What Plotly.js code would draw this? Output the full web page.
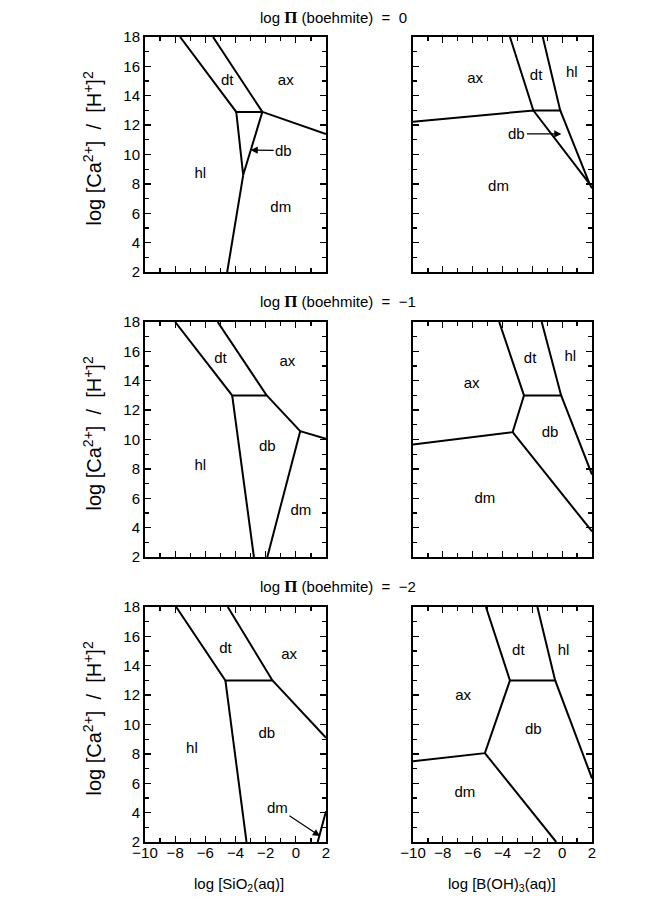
<!DOCTYPE html>
<html><head><meta charset="utf-8">
<script src="https://cdn.plot.ly/plotly-3.0.1.min.js"></script>
<style>html,body{margin:0;padding:0;background:#fff}#chart{width:667px;height:902px}</style>
</head><body><div id="chart"></div>
<script>
// ---- axis ranges / ticks ----
const xRange = [-10, 2];
const yRange = [2, 18];
const rowTitles = ["0", "\u22121", "\u22122"];
const xTitleLeft = "log [SiO<sub>2</sub>(aq)]";
const xTitleRight = "log [B(OH)<sub>3</sub>(aq)]";
const yTitle = "log [Ca<sup>2+</sup>]  /  [H<sup>+</sup>]<sup>2</sup>";

// ---- phase boundaries (null separates segments) ----
// Panel 1: SiO2, log Pi = 0
const p1X = [-7.67, -3.95, -2.22, -5.49, null, -2.22, 2, null, -3.95, -3.49, -2.22, null, -3.49, -4.55];
const p1Y = [18, 12.9, 12.9, 18, null, 12.9, 11.4, null, 12.9, 8.6, 12.9, null, 8.6, 2];
// Panel 2: B(OH)3, log Pi = 0
const p2X = [-3.5, -1.93, -0.13, -1.30, null, -10, -1.93, 1.84, -0.13, null, 1.84, 2];
const p2Y = [18, 13.0, 13.0, 18, null, 12.23, 13.0, 8.0, 13.0, null, 8.0, 7.7];
// Panel 3: SiO2, log Pi = -1
const p3X = [-8.0, -4.22, -1.93, -5.18, null, -1.93, 0.29, 2, null, -4.22, -2.78, null, 0.29, -1.89];
const p3Y = [18, 13.0, 13.0, 18, null, 13.0, 10.57, 10.05, null, 13.0, 2, null, 10.57, 2];
// Panel 4: B(OH)3, log Pi = -1
const p4X = [-4.22, -2.56, -0.07, -1.37, null, -10, -3.32, -2.56, null, -3.32, 2, null, -0.07, 2];
const p4Y = [18, 13.0, 13.0, 18, null, 9.66, 10.5, 13.0, null, 10.5, 3.74, null, 13.0, 7.61];
// Panel 5: SiO2, log Pi = -2
const p5X = [-7.93, -4.67, -1.55, -4.51, null, -1.55, 2, null, -4.67, -3.27, null, 2, 1.45];
const p5Y = [18, 13.0, 13.0, 18, null, 13.0, 9.1, null, 13.0, 2, null, 4.1, 2];
// Panel 6: B(OH)3, log Pi = -2
const p6X = [-5.11, -3.5, -0.47, -1.66, null, -10, -5.18, -3.5, null, -5.18, -0.4, null, -0.47, 2];
const p6Y = [18, 13.0, 13.0, 18, null, 7.5, 8.05, 13.0, null, 8.05, 2, null, 13.0, 6.33];

// ---- field labels ----
const p1LabText = ["dt", "ax", "hl", "dm"];
const p1LabX = [-4.55, -0.67, -6.33, -1.0];
const p1LabY = [15.0, 15.0, 8.67, 6.35];
const p2LabText = ["ax", "dt", "hl", "dm"];
const p2LabX = [-5.84, -1.75, 0.65, -4.27];
const p2LabY = [15.1, 15.3, 15.5, 7.8];
const p3LabText = ["dt", "ax", "db", "hl", "dm"];
const p3LabX = [-5.0, -0.56, -1.89, -6.33, 0.33];
const p3LabY = [15.46, 15.23, 9.44, 8.18, 5.12];
const p4LabText = ["ax", "dt", "hl", "db", "dm"];
const p4LabX = [-6.07, -2.15, 0.54, -0.81, -5.18];
const p4LabY = [13.75, 15.46, 15.57, 10.41, 5.91];
const p5LabText = ["dt", "ax", "db", "hl"];
const p5LabX = [-4.67, -0.44, -1.93, -6.89];
const p5LabY = [15.15, 14.74, 9.33, 8.33];
const p6LabText = ["dt", "hl", "ax", "db", "dm"];
const p6LabX = [-2.94, 0.09, -6.64, -1.93, -6.52];
const p6LabY = [15.0, 15.0, 11.9, 9.6, 5.33];

// ---- arrowed labels ----
const arrowPanel = [1, 2, 5];
const arrowText = ["db", "db", "dm"];
const arrowTipX = [-3.0, -0.05, 1.6];
const arrowTipY = [10.3, 11.4, 2.4];
const arrowTextX = [-0.8, -3.04, -1.22];
const arrowTextY = [10.27, 11.4, 4.33];

// ---------------- build ----------------
const FONT = "Liberation Sans, Arial, Helvetica, sans-serif";
const lineX = [p1X, p2X, p3X, p4X, p5X, p6X];
const lineY = [p1Y, p2Y, p3Y, p4Y, p5Y, p6Y];
const labT = [p1LabText, p2LabText, p3LabText, p4LabText, p5LabText, p6LabText];
const labX = [p1LabX, p2LabX, p3LabX, p4LabX, p5LabX, p6LabX];
const labY = [p1LabY, p2LabY, p3LabY, p4LabY, p5LabY, p6LabY];

const W = 667, H = 902;
const colDom = [[145 / W, 326 / W], [413 / W, 592 / W]];
const rowPx = [[37, 272], [322, 557], [607, 842]];
const rowDom = rowPx.map(r => [1 - r[1] / H, 1 - r[0] / H]);

const traces = [];
const layout = {
  width: W, height: H,
  margin: {l: 0, r: 0, t: 0, b: 0},
  paper_bgcolor: "#fff", plot_bgcolor: "#fff",
  showlegend: false,
  font: {family: FONT, size: 15, color: "#000"},
  annotations: []
};

for (let i = 0; i < 6; i++) {
  const n = i + 1;
  const xa = n === 1 ? "x" : "x" + n;
  const ya = n === 1 ? "y" : "y" + n;
  const row = Math.floor(i / 2), col = i % 2;
  traces.push({
    type: "scatter", mode: "lines", x: lineX[i], y: lineY[i],
    xaxis: xa, yaxis: ya, connectgaps: false,
    line: {color: "#000", width: 2}, hoverinfo: "skip"
  });
  traces.push({
    type: "scatter", mode: "text", x: labX[i], y: labY[i], text: labT[i],
    xaxis: xa, yaxis: ya, textposition: "middle center",
    textfont: {family: FONT, size: 15, color: "#000"}, hoverinfo: "skip"
  });
  const common = {
    showgrid: false, zeroline: false, showline: true, linecolor: "#000", linewidth: 2,
    mirror: "ticks", ticks: "inside", ticklen: 6, tickwidth: 1.3, tickcolor: "#000",
    minor: {dtick: 1, ticks: "inside", ticklen: 4, tickwidth: 1.2, tickcolor: "#000"},
    tickfont: {family: FONT, size: 15, color: "#000"}, fixedrange: true
  };
  layout[n === 1 ? "xaxis" : "xaxis" + n] = Object.assign({}, common, {
    domain: colDom[col], range: xRange, anchor: ya, tick0: -10, dtick: 2,
    showticklabels: row === 2, ticklabelstandoff: -4
  });
  layout[n === 1 ? "yaxis" : "yaxis" + n] = Object.assign({}, common, {
    domain: rowDom[row], range: yRange, anchor: xa, tick0: 2, dtick: 2,
    showticklabels: col === 0
  });
}

// arrows
for (let k = 0; k < arrowPanel.length; k++) {
  const n = arrowPanel[k];
  const xa = n === 1 ? "x" : "x" + n;
  const ya = n === 1 ? "y" : "y" + n;
  layout.annotations.push({
    xref: xa, yref: ya, axref: xa, ayref: ya,
    x: arrowTipX[k], y: arrowTipY[k], ax: arrowTextX[k], ay: arrowTextY[k],
    text: arrowText[k], showarrow: true, arrowhead: 2, arrowsize: 1.2,
    arrowwidth: 1.2, arrowcolor: "#000", standoff: 0, startstandoff: 0,
    font: {family: FONT, size: 15, color: "#000"}
  });
}

// row titles
const titleY = [18, 301, 586];
for (let r = 0; r < 3; r++) {
  layout.annotations.push({
    xref: "paper", yref: "paper", x: 258 / W, y: 1 - titleY[r] / H,
    xanchor: "left", yanchor: "middle", showarrow: false,
    text: "log <span style=\"font-family:Liberation Serif, serif;font-weight:bold;font-size:17px\">\u03A0</span> (boehmite)  =  " + rowTitles[r],
    font: {family: FONT, size: 15, color: "#000"}
  });
  // y-axis title
  const cy = (rowPx[r][0] + rowPx[r][1]) / 2 - 6;
  layout.annotations.push({
    xref: "paper", yref: "paper", x: 92 / W, y: 1 - cy / H,
    xanchor: "center", yanchor: "middle", showarrow: false, textangle: -90,
    text: yTitle, font: {family: FONT, size: 20, color: "#000"}
  });
}
// x-axis titles
layout.annotations.push({
  xref: "paper", yref: "paper", x: 239 / W, y: 1 - 884 / H,
  xanchor: "center", yanchor: "middle", showarrow: false,
  text: xTitleLeft, font: {family: FONT, size: 15, color: "#000"}
});
layout.annotations.push({
  xref: "paper", yref: "paper", x: 502 / W, y: 1 - 884 / H,
  xanchor: "center", yanchor: "middle", showarrow: false,
  text: xTitleRight, font: {family: FONT, size: 15, color: "#000"}
});

Plotly.newPlot("chart", traces, layout, {staticPlot: true, displayModeBar: false});
</script>
</body></html>
